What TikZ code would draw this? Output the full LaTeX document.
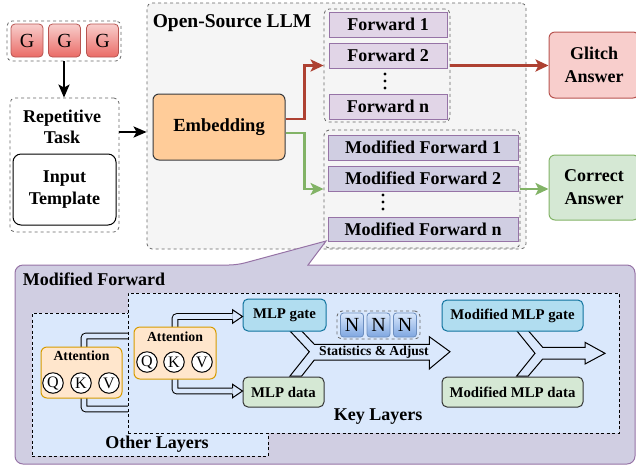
\documentclass[tikz,border=0pt]{standalone}
\usepackage{fontspec}
\setmainfont{Liberation Serif}
\usetikzlibrary{arrows.meta}
\definecolor{gborder}{HTML}{666666}
\definecolor{llmbg}{HTML}{F5F5F5}
\definecolor{embfill}{HTML}{FFCC99}
\definecolor{embdraw}{HTML}{36393D}
\definecolor{fwdfill}{HTML}{E1D5E7}
\definecolor{purp}{HTML}{9673A6}
\definecolor{modfill}{HTML}{D0CEE2}
\definecolor{glitchfill}{HTML}{F8CECC}
\definecolor{reddraw}{HTML}{B85450}
\definecolor{corfill}{HTML}{D5E8D4}
\definecolor{grndraw}{HTML}{82B366}
\definecolor{keyfill}{HTML}{DAE8FC}
\definecolor{attfill}{HTML}{FFE6CC}
\definecolor{attdraw}{HTML}{D79B00}
\definecolor{gatefill}{HTML}{B1DDF0}
\definecolor{gatedraw}{HTML}{10739E}
\definecolor{datafill}{HTML}{D5E8D4}
\definecolor{datadraw}{HTML}{333333}
\definecolor{gtop}{HTML}{F8CECC}
\definecolor{gbot}{HTML}{EA6B66}
\definecolor{ntop}{HTML}{DAE8FC}
\definecolor{nbot}{HTML}{7EA6E0}
\definecolor{ndraw}{HTML}{6C8EBF}
\definecolor{arrred}{HTML}{AE4132}
\definecolor{arrgrn}{HTML}{82B366}
\newcommand\fsMain{\fontsize{18}{21}\selectfont\bfseries}
\newcommand\fsTitle{\fontsize{19.5}{22}\selectfont\bfseries}
\newcommand\fsAtt{\fontsize{13.8}{16}\selectfont\bfseries}
\newcommand\fsMlp{\fontsize{14.8}{17}\selectfont\bfseries}
\newcommand\fsStat{\fontsize{13.6}{16}\selectfont\bfseries}
\newcommand\fsLet{\fontsize{16}{16}\selectfont}
\newcommand\fsBig{\fontsize{20}{20}\selectfont}
\newcommand\flexhead[1]{\draw[fill=keyfill, line width=1pt, line join=miter] ([shift={(-10,-2.8)}]#1) -- ([shift={(-10,-6.8)}]#1) -- (#1) -- ([shift={(-10,6.8)}]#1) -- ([shift={(-10,2.8)}]#1);}
\begin{document}
\begin{tikzpicture}[x=1pt,y=-1pt,
  grp/.style={draw=gborder, dash pattern=on 3pt off 3pt, rounded corners=5pt, line width=0.8pt, inner sep=0pt},
  lay/.style={draw=black, dash pattern=on 3pt off 2.5pt, fill=keyfill, line width=0.9pt, inner sep=0pt},
  box/.style={draw, rounded corners=6pt, line width=1pt, align=center, inner sep=0pt, font=\fsMain},
  fwd/.style={draw=purp, line width=1pt, inner sep=0pt, minimum height=25pt, font=\fsMain},
  gbox/.style={draw=reddraw, top color=gtop, bottom color=gbot, rounded corners=4pt, line width=0.8pt, minimum width=32pt, minimum height=33pt, inner sep=0pt, font=\fsBig},
  nbox/.style={draw=ndraw, top color=ntop, bottom color=nbot, rounded corners=3pt, line width=0.8pt, minimum width=23pt, minimum height=24pt, inner sep=0pt, font=\fsBig},
  att/.style={draw=attdraw, fill=attfill, rounded corners=6pt, line width=1pt, inner sep=0pt},
  qkv/.style={circle, draw, fill=white, line width=1pt, minimum size=20.5pt, inner sep=0pt, font=\fsLet},
  mlp/.style={rounded corners=5pt, line width=1pt, inner sep=0pt, font=\fsMlp},
  blkarr/.style={-{Stealth[length=13pt,width=11pt,inset=3pt]}, line width=2.6pt},
  redarr/.style={-{Stealth[length=13pt,width=12pt,inset=3pt]}, line width=2.6pt, draw=arrred, color=arrred},
  grnarr/.style={-{Stealth[length=13pt,width=12pt,inset=3pt]}, line width=2.6pt, draw=arrgrn, color=arrgrn},
  flex/.style={draw=black, line width=1pt, double=keyfill, double distance=4.6pt, rounded corners=2pt},
  yarr/.style={draw=black, fill=keyfill, line width=1pt, line join=miter},
]
\useasboundingbox (0,0) rectangle (636,467);

% ---------- top part ----------
\node[grp, fill=llmbg, minimum width=379pt, minimum height=246pt] (llm) at (336.5,126) {};
\node[font=\fsTitle] (llmt) at (232,23) {Open-Source LLM};

\node[grp, minimum width=114pt, minimum height=40pt] (ggg) at (64,41) {};
\node[gbox] (g1) at (27,40.5) {G};
\node[gbox] (g2) at (64.5,40.5) {G};
\node[gbox] (g3) at (102.5,40.5) {G};

\node[grp, minimum width=109pt, minimum height=134pt] (rep) at (64.5,165) {};
\node[font=\fsMain, align=center] (reptxt) at (62,127) {Repetitive\\Task};
\node[box, draw=black, fill=white, minimum width=103pt, minimum height=71pt, rounded corners=8pt] (inp) at (64.5,189.5) {Input\\[1pt]Template};

\draw[blkarr] (ggg.south) -- (ggg.south |- rep.north);
\coordinate (ra) at ([yshift=33pt]rep.east);
\draw[blkarr] (ra) -- (ra -| llm.west);

\node[box, draw=embdraw, fill=embfill, minimum width=132pt, minimum height=66pt, font=\fontsize{18.5}{21}\selectfont\bfseries] (emb) at (219,127) {Embedding};

\node[grp, minimum width=126pt, minimum height=113pt] (fg) at (387,65.5) {};
\node[fwd, fill=fwdfill, minimum width=118pt] (f1) at (388,24.5) {Forward 1};
\node[fwd, fill=fwdfill, minimum width=118pt] (f2) at (388,55.5) {Forward 2};
\fill (385,74) circle (1.7pt) (385,81) circle (1.7pt) (385,88) circle (1.7pt);
\node[fwd, fill=fwdfill, minimum width=118pt] (fn) at (388,106.5) {Forward n};

\node[grp, minimum width=196pt, minimum height=118pt] (mg) at (422,189) {};
\node[fwd, fill=modfill, minimum width=190pt] (m1) at (423,147.5) {Modified Forward 1};
\node[fwd, fill=modfill, minimum width=190pt] (m2) at (423,178.5) {Modified Forward 2};
\fill (383,195) circle (1.7pt) (383,202) circle (1.7pt) (383,209) circle (1.7pt);
\node[fwd, fill=modfill, minimum width=190pt, minimum height=24pt] (mn) at (423,229) {Modified Forward n};

\node[box, draw=reddraw, fill=glitchfill, minimum width=90pt, minimum height=66pt] (glitch) at (594,65) {Glitch\\[2pt]Answer};
\node[box, draw=grndraw, fill=corfill, minimum width=90pt, minimum height=65pt] (correct) at (594,187.5) {Correct\\[2pt]Answer};

\draw[redarr] ([yshift=8pt]emb.east) -- ++(19,0) |- (fg.west);
\draw[grnarr] ([yshift=-6pt]emb.east) -- ++(19,0) |- (mg.west);
\draw[redarr] (fg.east) -- (fg.east -| glitch.west);
\draw[grnarr] (mg.east) -- (mg.east -| correct.west);

% ---------- lower part ----------
\draw[draw=purp, fill=modfill, line width=1pt, rounded corners=8pt] (15,300) -- (15,265) -- (237,265) [sharp corners] -- (326,241) -- (308,265) [rounded corners=8pt] -- (635,265) -- (635,464) -- (15,464) -- cycle;
\node[font=\fsMain] (modt) at (94,279) {Modified Forward};

\node[lay, minimum width=236pt, minimum height=143pt] (other) at (150,384.5) {};
\coordinate (attLc) at (81.5,372.5);
\draw[flex] ([xshift=2.5pt]attLc) |- (140,336);
\draw[flex] ([xshift=2.5pt]attLc) |- (140,409);
\node[lay, minimum width=491pt, minimum height=140pt] (key) at (373.5,363) {};

\draw[yarr] (290,331) -- (309.3,351.7) -- (290,376) -- (301.7,376) -- (314.3,360) -- (429.3,360) -- (429.3,369) -- (450,351.7) -- (429.3,336.7) -- (429.3,344.3) -- (314.3,344.3) -- (301.7,331) -- cycle;
\draw[yarr] (516.7,330.7) -- (535,353.3) -- (516.7,376) -- (528.3,376) -- (542.7,359) -- (585,359) -- (585,364) -- (605,353.3) -- (585,342.3) -- (585,347.3) -- (542.7,347.3) -- (528.3,330.7) -- cycle;

\node[mlp, draw=gatedraw, fill=gatefill, minimum width=83pt, minimum height=32pt] (mgate) at (284.5,315) {MLP gate};
\node[mlp, draw=datadraw, fill=datafill, minimum width=81pt, minimum height=30pt] (mdata) at (283.5,392) {MLP data};
\node[mlp, draw=gatedraw, fill=gatefill, minimum width=141pt, minimum height=31pt] (mmgate) at (512.5,315.5) {Modified MLP gate};
\node[mlp, draw=datadraw, fill=datafill, minimum width=141pt, minimum height=30pt] (mmdata) at (512.5,392) {Modified MLP data};

\node[grp, minimum width=83pt, minimum height=28pt] (nnn) at (378.5,325) {};
\node[nbox] (n1) at (352,325) {N};
\node[nbox] (n2) at (378.5,325) {N};
\node[nbox] (n3) at (405,325) {N};

\coordinate (attRc) at (175,353);
\coordinate (tg) at (mgate.west |- 0,316.5);
\coordinate (td) at (mdata.west |- 0,391);
\draw[flex] (attRc) |- ([xshift=-10pt]tg);
\flexhead{tg}
\draw[flex] (attRc) |- ([xshift=-10pt]td);
\flexhead{td}

\node[att, minimum width=81pt, minimum height=51pt] (attL) at (attLc) {};
\node[font=\fsAtt] (attLt) at (81.5,356) {Attention};
\node[qkv] (lq) at (53,383) {Q};
\node[qkv] (lk) at (81,383) {K};
\node[qkv] (lv) at (109,383) {V};

\node[att, minimum width=82pt, minimum height=52pt] (attR) at (attRc) {};
\node[font=\fsAtt] (attRt) at (175,337) {Attention};
\node[qkv] (rq) at (147,362) {Q};
\node[qkv] (rk) at (174,362) {K};
\node[qkv] (rv) at (202,362) {V};

\node[font=\fsStat] (stat) at (374,352) {Statistics \& Adjust};
\node[font=\fsMain] (keyt) at (378,417) {Key Layers};
\node[font=\fsMain] (othert) at (157,444) {Other Layers};
\end{tikzpicture}
\end{document}
